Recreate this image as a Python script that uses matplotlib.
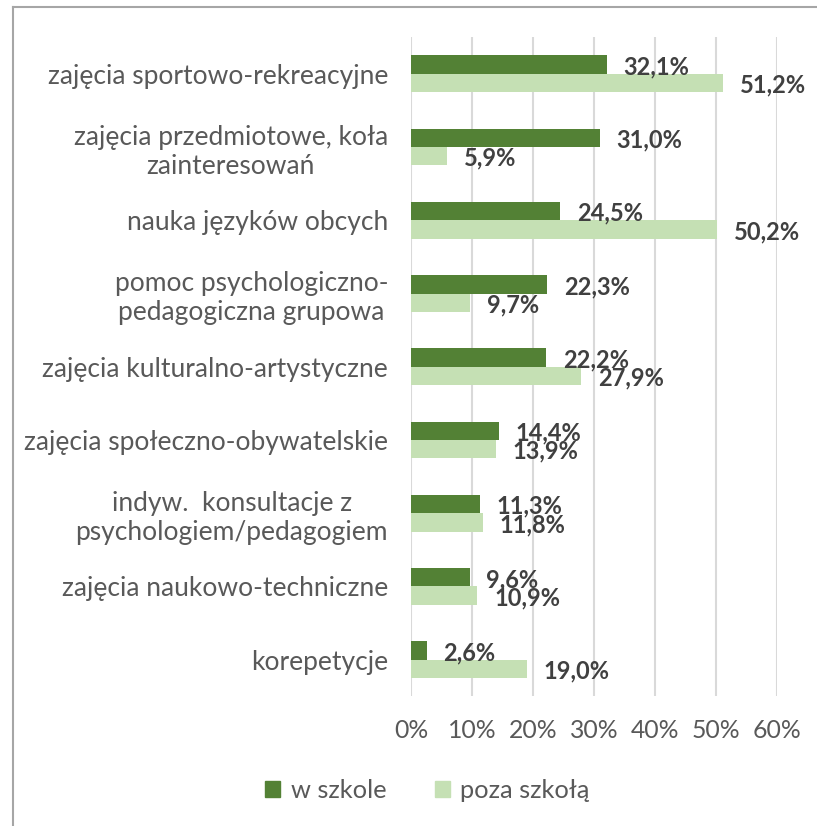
import numpy as np
import matplotlib
matplotlib.use('Agg')
import matplotlib.pyplot as plt
from matplotlib.lines import Line2D
from matplotlib.patches import Patch

plt.rcParams['font.family'] = ['Lato', 'DejaVu Sans']

categories = [
    'zajęcia sportowo-rekreacyjne',
    'zajęcia przedmiotowe, koła\nzainteresowań',
    'nauka języków obcych',
    'pomoc psychologiczno-\npedagogiczna grupowa',
    'zajęcia kulturalno-artystyczne',
    'zajęcia społeczno-obywatelskie',
    'indyw.  konsultacje z\npsychologiem/pedagogiem',
    'zajęcia naukowo-techniczne',
    'korepetycje',
]
w_szkole = [32.1, 31.0, 24.5, 22.3, 22.2, 14.4, 11.3, 9.6, 2.6]
poza_szkola = [51.2, 5.9, 50.2, 9.7, 27.9, 13.9, 11.8, 10.9, 19.0]
series_names = ['w szkole', 'poza szkołą']
x_ticks = [0, 10, 20, 30, 40, 50, 60]

dark = '#538135'
light = '#C5E0B4'
txt = '#595959'
lbl = '#404040'

fig = plt.figure(figsize=(8.17, 8.26), dpi=100)
ax = fig.add_axes([0.503, 0.157, 0.448, 0.798])

y = np.arange(len(categories))
h = 0.25
b1 = ax.barh(y - h / 2, w_szkole, height=h, color=dark)
b2 = ax.barh(y + h / 2, poza_szkola, height=h, color=light)

for bars, vals in [(b1, w_szkole), (b2, poza_szkola)]:
    for bar, v in zip(bars, vals):
        ax.annotate(f'{v:.1f}%'.replace('.', ','),
                    (bar.get_width(), bar.get_y() + bar.get_height() / 2 + 0.03),
                    xytext=(12, 0), textcoords='offset points',
                    ha='left', va='center', fontsize=17, fontweight='bold',
                    color=lbl)

ax.set_xlim(0, 60)
ax.set_ylim(len(categories) - 0.5, -0.5)
ax.set_xticks(x_ticks)
ax.set_xticklabels([f'{t}%' for t in x_ticks], fontsize=17.8, color=txt)
ax.set_yticks(y)
ax.set_yticklabels(categories, fontsize=19, color=txt, multialignment='center',
                   linespacing=1.2)
ax.tick_params(axis='both', length=0)
ax.tick_params(axis='y', pad=16.5)
ax.tick_params(axis='x', pad=16)
ax.grid(axis='x', color='#D9D9D9', linewidth=1.5)
ax.set_axisbelow(True)
for s in ax.spines.values():
    s.set_visible(False)

handles = [Patch(color=dark), Patch(color=light)]
fig.legend(handles, series_names, loc='center', bbox_to_anchor=(0.523, 0.043),
           ncol=2, frameon=False, fontsize=18.3, labelcolor=txt,
           handlelength=0.6, handleheight=0.6, handletextpad=0.4, columnspacing=1.9)

# outer chart border (top and left visible)
fig.add_artist(Line2D([13 / 817, 1], [1 - 7 / 826, 1 - 7 / 826], color='#A6A6A6', lw=1.5))
fig.add_artist(Line2D([13 / 817, 13 / 817], [0, 1 - 7 / 826], color='#A6A6A6', lw=1.5))

fig.savefig('out.png', dpi=100, facecolor='white')
